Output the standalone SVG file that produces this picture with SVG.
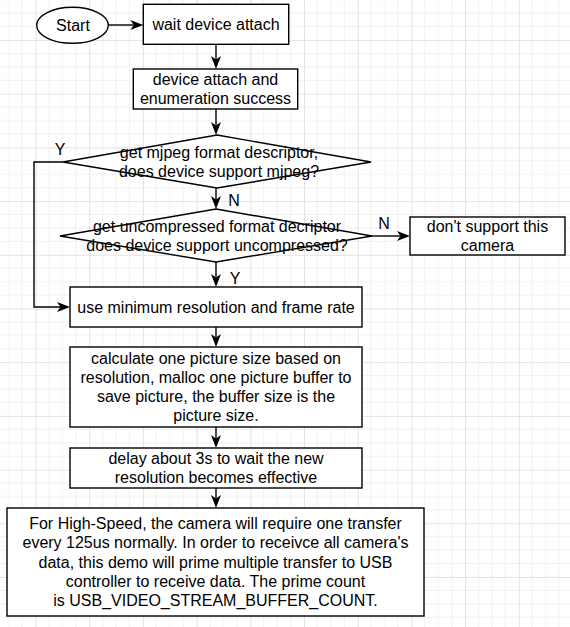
<svg xmlns="http://www.w3.org/2000/svg" width="570" height="627" viewBox="0 0 570 627">
<style>
.s{fill:#fff;stroke:#000;stroke-width:1.4}
.t{font-family:"Liberation Sans",Arial,sans-serif;font-size:16px;fill:#000;text-anchor:middle}
.c{fill:none;stroke:#000;stroke-width:1.4}
.mn{stroke:#f1f1f1;stroke-width:1}
.mj{stroke:#e3e3e3;stroke-width:1}
</style>
<defs>
<pattern id="grid" patternUnits="userSpaceOnUse" x="35.5" y="40" width="53.7" height="53.7">
<path class="mn" d="M13.4,0V53.7M26.85,0V53.7M40.3,0V53.7M0,13.4H53.7M0,26.85H53.7M0,40.3H53.7"/>
<path class="mj" d="M0.5,0V53.7M0,0.5H53.7"/>
</pattern>
<marker id="arr" markerUnits="userSpaceOnUse" viewBox="0 -6 14 12" markerWidth="14" markerHeight="12" refX="3.5" refY="0" orient="auto">
<path d="M13,0L0,-5L3.5,0L0,5Z" fill="#000"/>
</marker>
</defs>
<rect width="570" height="627" fill="#fff"/>
<rect width="570" height="627" fill="url(#grid)"/>
<g id="connectors">
<path class="c" marker-end="url(#arr)" d="M108.3,25H133.8"/>
<path class="c" marker-end="url(#arr)" d="M216,44.3V59.5"/>
<path class="c" marker-end="url(#arr)" d="M216,109V125.5"/>
<path class="c" marker-end="url(#arr)" d="M216,188V199.5"/>
<path class="c" marker-end="url(#arr)" d="M216,262V277.5"/>
<path class="c" marker-end="url(#arr)" d="M372,236H400.5"/>
<path class="c" marker-end="url(#arr)" d="M63,162H34V307H60.5"/>
<path class="c" marker-end="url(#arr)" d="M216,327V337.5"/>
<path class="c" marker-end="url(#arr)" d="M216,427V438.5"/>
<path class="c" marker-end="url(#arr)" d="M216,488V498.5"/>
<text class="t" x="60" y="154.5">Y</text>
<text class="t" x="234" y="205.6">N</text>
<text class="t" x="235" y="283.6">Y</text>
<text class="t" x="384" y="228.6">N</text>
</g>
<g id="start">
<ellipse class="s" cx="72.5" cy="25.3" rx="35.8" ry="18"/>
<text class="t" x="73" y="30.9">Start</text>
</g>
<g id="wait">
<rect class="s" x="143.3" y="4.3" width="145.4" height="40"/>
<text class="t" x="216" y="29.9">wait device attach</text>
</g>
<g id="enum">
<rect class="s" x="133.3" y="69" width="164.4" height="40"/>
<text class="t" x="215.5" y="85">device attach and</text>
<text class="t" x="215.5" y="104.2">enumeration success</text>
</g>
<g id="mjpeg">
<path class="s" d="M217,135L371,162L217,188L63,162Z"/>
<text class="t" x="219" y="158">get mjpeg format descriptor,</text>
<text class="t" x="219" y="177.2">does device support mjpeg?</text>
</g>
<g id="uncompressed">
<path class="s" d="M216,209L372,236L216,262L60,236Z"/>
<text class="t" x="217" y="232">get uncompressed format decriptor</text>
<text class="t" x="217" y="251.2">does device support uncompressed?</text>
</g>
<g id="nosupport">
<rect class="s" x="410" y="217" width="155" height="38"/>
<text class="t" x="487.5" y="232">don't support this</text>
<text class="t" x="487.5" y="251.2">camera</text>
</g>
<g id="minres">
<rect class="s" x="70" y="287" width="292" height="40"/>
<text class="t" x="216" y="312.6">use minimum resolution and frame rate</text>
</g>
<g id="calc">
<rect class="s" x="70" y="347" width="292" height="80"/>
<text class="t" x="216" y="363.8">calculate one picture size based on</text>
<text class="t" x="216" y="383">resolution, malloc one picture buffer to</text>
<text class="t" x="216" y="402.2">save picture, the buffer size is the</text>
<text class="t" x="216" y="421.4">picture size.</text>
</g>
<g id="delay">
<rect class="s" x="70" y="448" width="292" height="40"/>
<text class="t" x="216" y="464">delay about 3s to wait the new</text>
<text class="t" x="216" y="483.2">resolution becomes effective</text>
</g>
<g id="prime">
<rect class="s" x="7" y="508" width="417" height="108"/>
<text class="t" x="215.5" y="529.2">For High-Speed, the camera will require one transfer</text>
<text class="t" x="215.5" y="548.4">every 125us normally. In order to receivce all camera's</text>
<text class="t" x="215.5" y="567.6">data, this demo will prime multiple transfer to USB</text>
<text class="t" x="215.5" y="586.8">controller to receive data. The prime count</text>
<text class="t" x="215.5" y="606">is USB_VIDEO_STREAM_BUFFER_COUNT.</text>
</g>
</svg>
